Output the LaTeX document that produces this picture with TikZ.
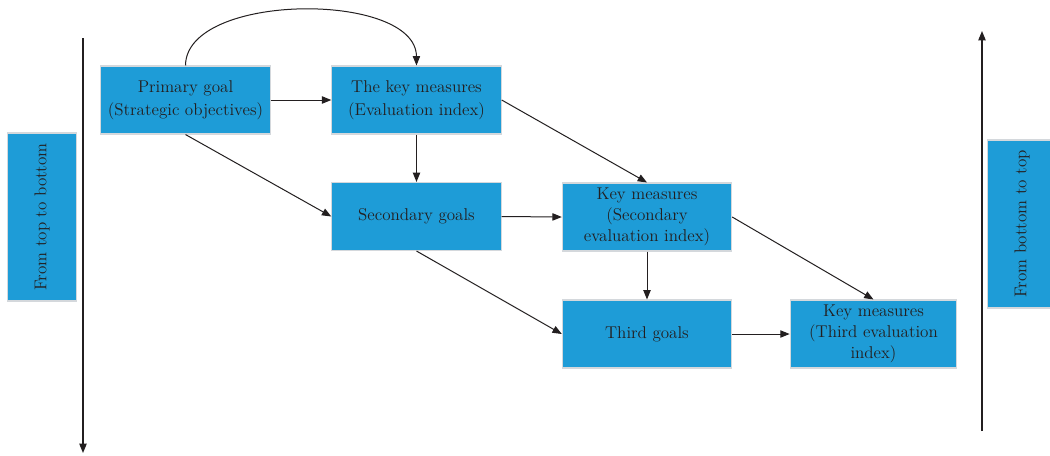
\documentclass[tikz,border=0pt]{standalone}
\usetikzlibrary{arrows.meta}
\definecolor{boxblue}{HTML}{1E9CD7}
\definecolor{boxedge}{HTML}{D4D8DC}
\definecolor{ink}{HTML}{231F20}
\begin{document}
\begin{tikzpicture}[x=0.75pt,y=-0.75pt,
  goalbox/.style={draw=boxedge,line width=0.8pt,fill=boxblue,text=ink,
    minimum width=127pt,minimum height=51pt,inner sep=1pt,align=center,
    font=\fontsize{12.8}{17.2}\selectfont},
  tallbox/.style={goalbox,font=\fontsize{12.8}{15.8}\selectfont},
  sidebox/.style={goalbox,rotate=90,minimum width=126pt,minimum height=52pt},
  flow/.style={ink,line width=0.75pt,-{Triangle[length=7pt,width=5.5pt]}},
  axis/.style={ink,line width=0.9pt,-{Triangle[length=7pt,width=5.5pt]}}]
\useasboundingbox (0,0) rectangle (1050,455);
\clip (0,0) rectangle (1050,455);
\fill[white] (0,0) rectangle (1050,455);

% direction labels and axes
\node[sidebox] (down) at (42,217) {From top to bottom};
\node[sidebox] (up) at (1022,224) {From bottom to top};
\coordinate (downtop) at (83,38);
\coordinate (downend) at (83,453);
\coordinate (upbot) at (982,431);
\coordinate (uptop) at (982,31);
\draw[axis] (downtop) -- (downend);
\draw[axis] (upbot) -- (uptop);

% goals and measures
\node[goalbox] (p)  at (185.5,100) {Primary goal\\(Strategic objectives)};
\node[goalbox] (k1) at (416.5,100) {The key measures\\(Evaluation index)};
\node[goalbox] (s)  at (416.5,216.5) {Secondary goals};
\node[tallbox] (k2) at (647,217) {Key measures\\(Secondary\\evaluation index)};
\node[goalbox] (t)  at (647,334) {Third goals};
\node[tallbox,minimum width=125pt] (k3) at (873.5,334) {Key measures\\(Third evaluation\\index)};

% connectors
\draw[flow] (p.north) .. controls (186,-8) and (416,-9) .. (k1.north);
\draw[flow] (p.east) -- (k1.west);
\draw[flow] (p.south) -- (s.west);
\draw[flow] (k1.south) -- (s.north);
\draw[flow] (k1.east) -- (k2.north);
\draw[flow] (s.east) -- (k2.west);
\draw[flow] (s.south) -- (t.west);
\draw[flow] (k2.south) -- (t.north);
\draw[flow] (k2.east) -- (k3.north);
\draw[flow] (t.east) -- (k3.west);
\end{tikzpicture}
\end{document}
